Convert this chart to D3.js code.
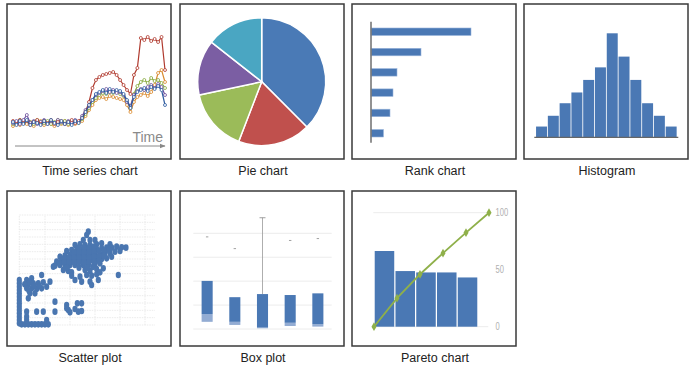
<!DOCTYPE html>
<html>
<head>
<meta charset="utf-8">
<script src="https://d3js.org/d3.v7.min.js"></script>
<style>
  body { margin: 0; background: #fff; }
  svg { display: block; font-family: "Liberation Sans", Arial, sans-serif; }
</style>
</head>
<body>
<svg></svg>
<script>
// ---- data ----
const labels = ["Time series chart", "Pie chart", "Rank chart", "Histogram",
                "Scatter plot", "Box plot", "Pareto chart"];

// time series (index 0..44)
const tsRed    = [9,6,10,7,9,5,8,10,6,9,7,10,6,8,9,6,8,10,7,9,12,18,28,42,50,53,55,56,57,58,55,50,45,40,36,55,62,92,90,93,89,91,88,93,60];
const tsOrange = [4,7,5,9,6,8,4,7,9,5,8,6,4,8,6,9,5,7,6,8,9,14,20,25,30,32,33,31,34,33,32,31,30,25,18,28,33,35,37,34,38,45,57,60,48];
const tsGreen  = [6,8,10,7,9,8,6,10,8,7,9,6,8,10,7,9,6,8,9,7,11,16,22,28,32,35,37,36,38,37,39,36,34,29,22,36,44,48,50,47,52,49,50,47,42];
const tsPurple = [7,9,6,10,15,7,9,6,8,10,6,9,7,10,8,6,9,7,10,8,14,20,24,30,35,37,39,41,38,40,37,38,35,28,24,35,39,41,40,43,45,42,46,43,35];
const tsBlue   = [8,5,9,6,10,5,8,7,5,9,6,10,7,5,9,6,8,5,9,7,12,18,25,30,36,38,40,37,41,38,40,39,36,30,22,33,38,40,42,39,43,41,44,40,25];

// pie
const pieValues = [37.5, 18.3, 15.8, 13.9, 14.4];
const pieColors = ["#4a7ab6", "#c0504d", "#9bbb59", "#7b5ea3", "#4aa6c2"];

// rank
const rankValues = [100, 50, 26, 22, 19, 12.5];

// histogram
const histValues = [3, 6, 9.5, 12.5, 16, 19.5, 29, 22.5, 16, 9.5, 6, 3];

// scatter [x, y]
const scatterPts = [
  [20.2,27],[20.7,28],[19.2,25.5],[21.2,25.5],[22.7,25.5],[16.7,24],[18.2,24.2],[19.7,24],[21.2,24],[23.2,24.2],[24.7,24.5],[27.2,24.2],
  [14.2,22.2],[15.7,22.5],[17.2,22.5],[18.7,22.5],[20.2,22.5],[21.7,22.5],[23.2,22.8],[24.7,23],[26.2,23.2],[27.7,23.2],[29.2,23.5],[30.7,23.3],[32,23.2],
  [12.2,20.5],[13.7,20.8],[15.2,21],[16.7,21],[18.2,21],[19.7,21],[21.2,21],[22.7,21.2],[24.2,21.3],[25.7,21.5],[27.2,21.5],[28.7,22],[30.2,22.2],
  [11.2,19],[12.7,19.2],[14.2,19.5],[15.7,19.5],[17.2,19.5],[18.7,19.5],[20.2,19.5],[21.7,19.5],[23.2,19.8],[24.7,19.8],[26.2,20],[27.7,20.5],
  [10.7,17.8],[12.2,18],[13.7,18],[15.2,18],[16.7,18],[19.2,18],[20.7,18],[22.7,18.2],[24.2,18.5],
  [13.2,16.5],[14.7,16.2],[15.7,15.8],[19.7,16.5],[21.2,16.2],[23.2,16.8],[25.2,17],
  [15.7,14.8],[18.2,14.5],[20.2,15],[21.7,14.8],[23.2,15.2],[24.2,15.8],
  [16.7,13.5],[18.7,13],[21.2,13],[23.7,13.5],[21.7,12],[29.7,15],[10.2,17.5],[6.7,15],
  [17.9,23.2],[19.4,23.2],[20.9,23.2],[22.4,23.5],[16.4,21.8],[17.9,21.8],[19.4,21.8],[20.9,21.8],[22.4,22],[23.9,22.2],[25.4,22.3],[26.9,22.4],
  [13.4,20],[14.9,20.2],[16.4,20.2],[17.9,20.2],[19.4,20.2],[20.9,20.2],[22.4,20.5],[23.9,20.6],[25.4,20.8],
  [11.9,18.6],[13.4,18.8],[14.9,18.8],[16.4,18.8],[17.9,18.8],[19.4,18.8],[20.9,18.8],[22.4,19],[23.9,19.2],
  [17.9,17.2],[14.2,17.2],[20.4,17.2],[22,17.4],
  [2.2,13.5],[3.7,14],[2.7,12.2],[4.2,12.5],[5.7,12.5],[7.2,12.8],[9.2,13],[2.2,11],[3.7,11],[5.2,10.8],[6.7,11],[8.2,11.5],[3.2,9.5],[4.7,9.5],[2.7,8],
  [3,12.8],[4.5,11.8],[6,11.7],[2.9,10.3],[1.6,12.2],
  [0,13.5],[0,12.5],[0,11.5],[0,10.5],[0,9.5],[0,8.5],[0,7.5],[0,6.5],[0,5.5],[0,4.5],[0,3.5],[0,2.5],[0,1.5],[0,0.5],
  [0.7,0.2],[1.7,0.2],[2.7,0.2],[3.7,0.2],[4.7,0.2],[5.7,0.2],[6.7,0.2],[7.7,0.2],[8.7,0.2],
  [2.2,2.5],[2.2,1.5],[2.2,4],[5.2,4],[7.2,4],[10.7,4],[10.7,7],[8.2,1.5],
  [14.2,6],[14.7,4.5],[15.2,3.8],[16.7,4.8],[17.7,4],[18.7,4.2],[17.4,6.5],[18.7,6.5],[14.2,5]
];
const scatterGridX = [0, 7.7, 15.2, 22.7, 30.2, 37.7];
const scatterGridY = [0, 2.2, 4.4, 6.6, 8.8, 11, 13.2, 15.4, 17.6, 19.8, 22, 24.2, 26.4, 28.6, 30.8, 33];

// box plot
const boxQ1     = [3.0, 1.7, 0.3, 1.25, 1.0];
const boxMedian = [6.25, 3.0, 0.6, 2.6, 2.0];
const boxQ3     = [20.1, 13.3, 14.6, 14.2, 14.9];
const boxMax    = [38.5, 33.6, 46.5, 37, 37.8];
const boxGrid   = [0, 10, 20, 30, 40];

// pareto
const paretoBars = [66.4, 48.8, 47.6, 47.6, 43.2];
const paretoCum  = [0, 25, 46, 64.5, 82.5, 100];
const paretoTicks = [0, 50, 100];

// ---- layout ----
const svg = d3.select("svg").attr("width", 690).attr("height", 367);
const panelW = 164, panelH = 155;
const colX = [7, 180, 352, 524], rowY = [4, 191];
const blue = "#4a78b4";

const panels = labels.map((l, i) => ({
  label: l,
  x: colX[i < 4 ? i : i - 4],
  y: rowY[i < 4 ? 0 : 1]
}));

const groups = panels.map(p => {
  const g = svg.append("g").attr("transform", `translate(${p.x},${p.y})`);
  g.append("rect").attr("width", panelW).attr("height", panelH)
    .attr("fill", "#fff").attr("stroke", "#3a3a3a").attr("stroke-width", 1.5);
  svg.append("text").attr("x", p.x + panelW / 2 + 1).attr("y", p.y + panelH + 15.5)
    .attr("text-anchor", "middle").attr("font-size", 12.5).attr("fill", "#222")
    .text(p.label);
  return g;
});

// 1. time series
(function() {
  const g = groups[0];
  const x = d3.scaleLinear().domain([0, tsRed.length - 1]).range([6, 158]);
  const y = d3.scaleLinear().domain([0, 100]).range([126, 26]);
  const series = [
    {v: tsOrange, c: "#d98a2e"},
    {v: tsGreen,  c: "#86a83b"},
    {v: tsPurple, c: "#6a4c9c"},
    {v: tsRed,    c: "#b03a2e"},
    {v: tsBlue,   c: "#2c5aa0"}
  ];
  const line = d3.line().x((d, i) => x(i)).y(d => y(d));
  series.forEach(s => {
    g.append("path").datum(s.v).attr("d", line)
      .attr("fill", "none").attr("stroke", s.c).attr("stroke-width", 1.2);
    g.selectAll(null).data(s.v).enter().append("circle")
      .attr("cx", (d, i) => x(i)).attr("cy", d => y(d)).attr("r", 1.5)
      .attr("fill", "#fff").attr("stroke", s.c).attr("stroke-width", 0.8);
  });
  g.append("defs").append("marker").attr("id", "arr")
    .attr("viewBox", "0 0 10 10").attr("refX", 9).attr("refY", 5)
    .attr("markerWidth", 6).attr("markerHeight", 6).attr("orient", "auto")
    .append("path").attr("d", "M0,1L10,5L0,9z").attr("fill", "#888");
  g.append("line").attr("x1", 8).attr("x2", 158).attr("y1", 142).attr("y2", 142)
    .attr("stroke", "#888").attr("stroke-width", 1).attr("marker-end", "url(#arr)");
  g.append("text").attr("x", 156).attr("y", 138).attr("text-anchor", "end")
    .attr("font-size", 14).attr("fill", "#8a8a8a").text("Time");
})();

// 2. pie
(function() {
  const g = groups[1].append("g").attr("transform", "translate(81.7,77.7)");
  const pie = d3.pie().sort(null)(pieValues);
  const arc = d3.arc().innerRadius(0).outerRadius(64);
  g.selectAll("path").data(pie).enter().append("path")
    .attr("d", arc).attr("fill", (d, i) => pieColors[i])
    .attr("stroke", "#fff").attr("stroke-width", 1.5);
})();

// 3. rank chart
(function() {
  const g = groups[2];
  const x = d3.scaleLinear().domain([0, 100]).range([19, 119]);
  const y = d3.scaleBand().domain(d3.range(rankValues.length))
    .range([17.6, 139.4]).paddingInner(0.63).paddingOuter(0.315);
  g.selectAll(".bar").data(rankValues).enter().append("rect")
    .attr("x", x(0)).attr("y", (d, i) => y(i))
    .attr("width", d => x(d) - x(0)).attr("height", y.bandwidth())
    .attr("fill", blue).attr("stroke", "#9cb6dc").attr("stroke-width", 0.6);
  g.append("line").attr("x1", 19).attr("x2", 19).attr("y1", 17.7).attr("y2", 138.7)
    .attr("stroke", "#777").attr("stroke-width", 1.6);
})();

// 4. histogram
(function() {
  const g = groups[3];
  const x = d3.scaleBand().domain(d3.range(histValues.length))
    .range([11.7, 153]).paddingInner(0.07).paddingOuter(0.03);
  const y = d3.scaleLinear().domain([0, 29]).range([133.3, 29.3]);
  g.selectAll(".bar").data(histValues).enter().append("rect")
    .attr("x", (d, i) => x(i)).attr("y", d => y(d))
    .attr("width", x.bandwidth()).attr("height", d => y(0) - y(d))
    .attr("fill", blue);
  g.append("line").attr("x1", 10.3).attr("x2", 154.3).attr("y1", 133.3).attr("y2", 133.3)
    .attr("stroke", "#666").attr("stroke-width", 1.2);
})();

// 5. scatter
(function() {
  const g = groups[4];
  const x = d3.scaleLinear().domain([0, 40.7]).range([12.3, 148]);
  const y = d3.scaleLinear().domain([0, 33]).range([134, 24]);
  g.selectAll(".gy").data(scatterGridY).enter().append("line")
    .attr("x1", x(0)).attr("x2", x(40.7)).attr("y1", d => y(d)).attr("y2", d => y(d))
    .attr("stroke", "#e6e6e6").attr("stroke-width", 0.8).attr("stroke-dasharray", "1.5,1");
  g.selectAll(".gx").data(scatterGridX).enter().append("line")
    .attr("x1", d => x(d)).attr("x2", d => x(d)).attr("y1", y(0)).attr("y2", y(33))
    .attr("stroke", "#e6e6e6").attr("stroke-width", 0.8).attr("stroke-dasharray", "1.5,1");
  g.selectAll(".pt").data(scatterPts).enter().append("ellipse")
    .attr("cx", d => x(d[0])).attr("cy", d => y(d[1]))
    .attr("rx", 2.6).attr("ry", 3.3)
    .attr("fill", "#4a76b0");
})();

// 6. box plot
(function() {
  const g = groups[5];
  const x = d3.scaleBand().domain(d3.range(boxQ3.length))
    .range([13.3, 151.7]).paddingInner(0.6).paddingOuter(0.3);
  const y = d3.scaleLinear().domain([0, 40]).range([138, 42.3]);
  g.selectAll(".grid").data(boxGrid).enter().append("line")
    .attr("x1", 13.3).attr("x2", 151.7).attr("y1", d => y(d)).attr("y2", d => y(d))
    .attr("stroke", "#ececec").attr("stroke-width", 1);
  const idx = d3.range(boxQ3.length);
  // whisker on the third box
  g.append("line").attr("x1", x(2) + x.bandwidth() / 2).attr("x2", x(2) + x.bandwidth() / 2)
    .attr("y1", y(boxMax[2])).attr("y2", y(boxQ3[2]))
    .attr("stroke", "#999").attr("stroke-width", 0.8);
  g.selectAll(".cap").data(idx).enter().append("line")
    .attr("x1", i => x(i) + x.bandwidth() / 2 - (i === 2 ? 3 : 1.2))
    .attr("x2", i => x(i) + x.bandwidth() / 2 + (i === 2 ? 3 : 1.2))
    .attr("y1", i => y(boxMax[i])).attr("y2", i => y(boxMax[i]))
    .attr("stroke", "#888").attr("stroke-width", 0.8);
  g.selectAll(".low").data(idx).enter().append("rect")
    .attr("x", i => x(i)).attr("y", i => y(boxMedian[i]))
    .attr("width", x.bandwidth()).attr("height", i => y(boxQ1[i]) - y(boxMedian[i]))
    .attr("fill", "#93acd3");
  g.selectAll(".high").data(idx).enter().append("rect")
    .attr("x", i => x(i)).attr("y", i => y(boxQ3[i]))
    .attr("width", x.bandwidth()).attr("height", i => y(boxMedian[i]) - y(boxQ3[i]))
    .attr("fill", blue);
})();

// 7. pareto
(function() {
  const g = groups[6];
  const y = d3.scaleLinear().domain([0, 100]).range([135.7, 21.7]);
  const xb = d3.scaleBand().domain(d3.range(paretoBars.length))
    .range([22.3, 125.7]).paddingInner(0.06).paddingOuter(0.02);
  const xl = d3.scalePoint().domain(d3.range(paretoCum.length)).range([22, 137]);
  g.selectAll(".grid").data(paretoTicks.filter(d => d !== 50)).enter().append("line")
    .attr("x1", 21.3).attr("x2", 136.3).attr("y1", d => y(d)).attr("y2", d => y(d))
    .attr("stroke", "#ececec").attr("stroke-width", 1);
  g.selectAll(".bar").data(paretoBars).enter().append("rect")
    .attr("x", (d, i) => xb(i)).attr("y", d => y(d))
    .attr("width", xb.bandwidth()).attr("height", d => y(0) - y(d))
    .attr("fill", blue);
  g.append("path").datum(paretoCum)
    .attr("d", d3.line().x((d, i) => xl(i)).y(d => y(d)))
    .attr("fill", "none").attr("stroke", "#8fb04a").attr("stroke-width", 1.8);
  g.selectAll(".mk").data(paretoCum).enter().append("path")
    .attr("transform", (d, i) => `translate(${xl(i)},${y(d)})`)
    .attr("d", d3.symbol().type(d3.symbolDiamond).size(22))
    .attr("fill", "#8fb04a");
  g.selectAll(".tick").data(paretoTicks).enter().append("text")
    .attr("x", 143.5).attr("y", d => y(d) + 3.5)
    .attr("font-size", 10).attr("fill", "#b0b0b0")
    .attr("textLength", d => String(d).length * 4.2).attr("lengthAdjust", "spacingAndGlyphs")
    .text(d => d);
})();
</script>
</body>
</html>
